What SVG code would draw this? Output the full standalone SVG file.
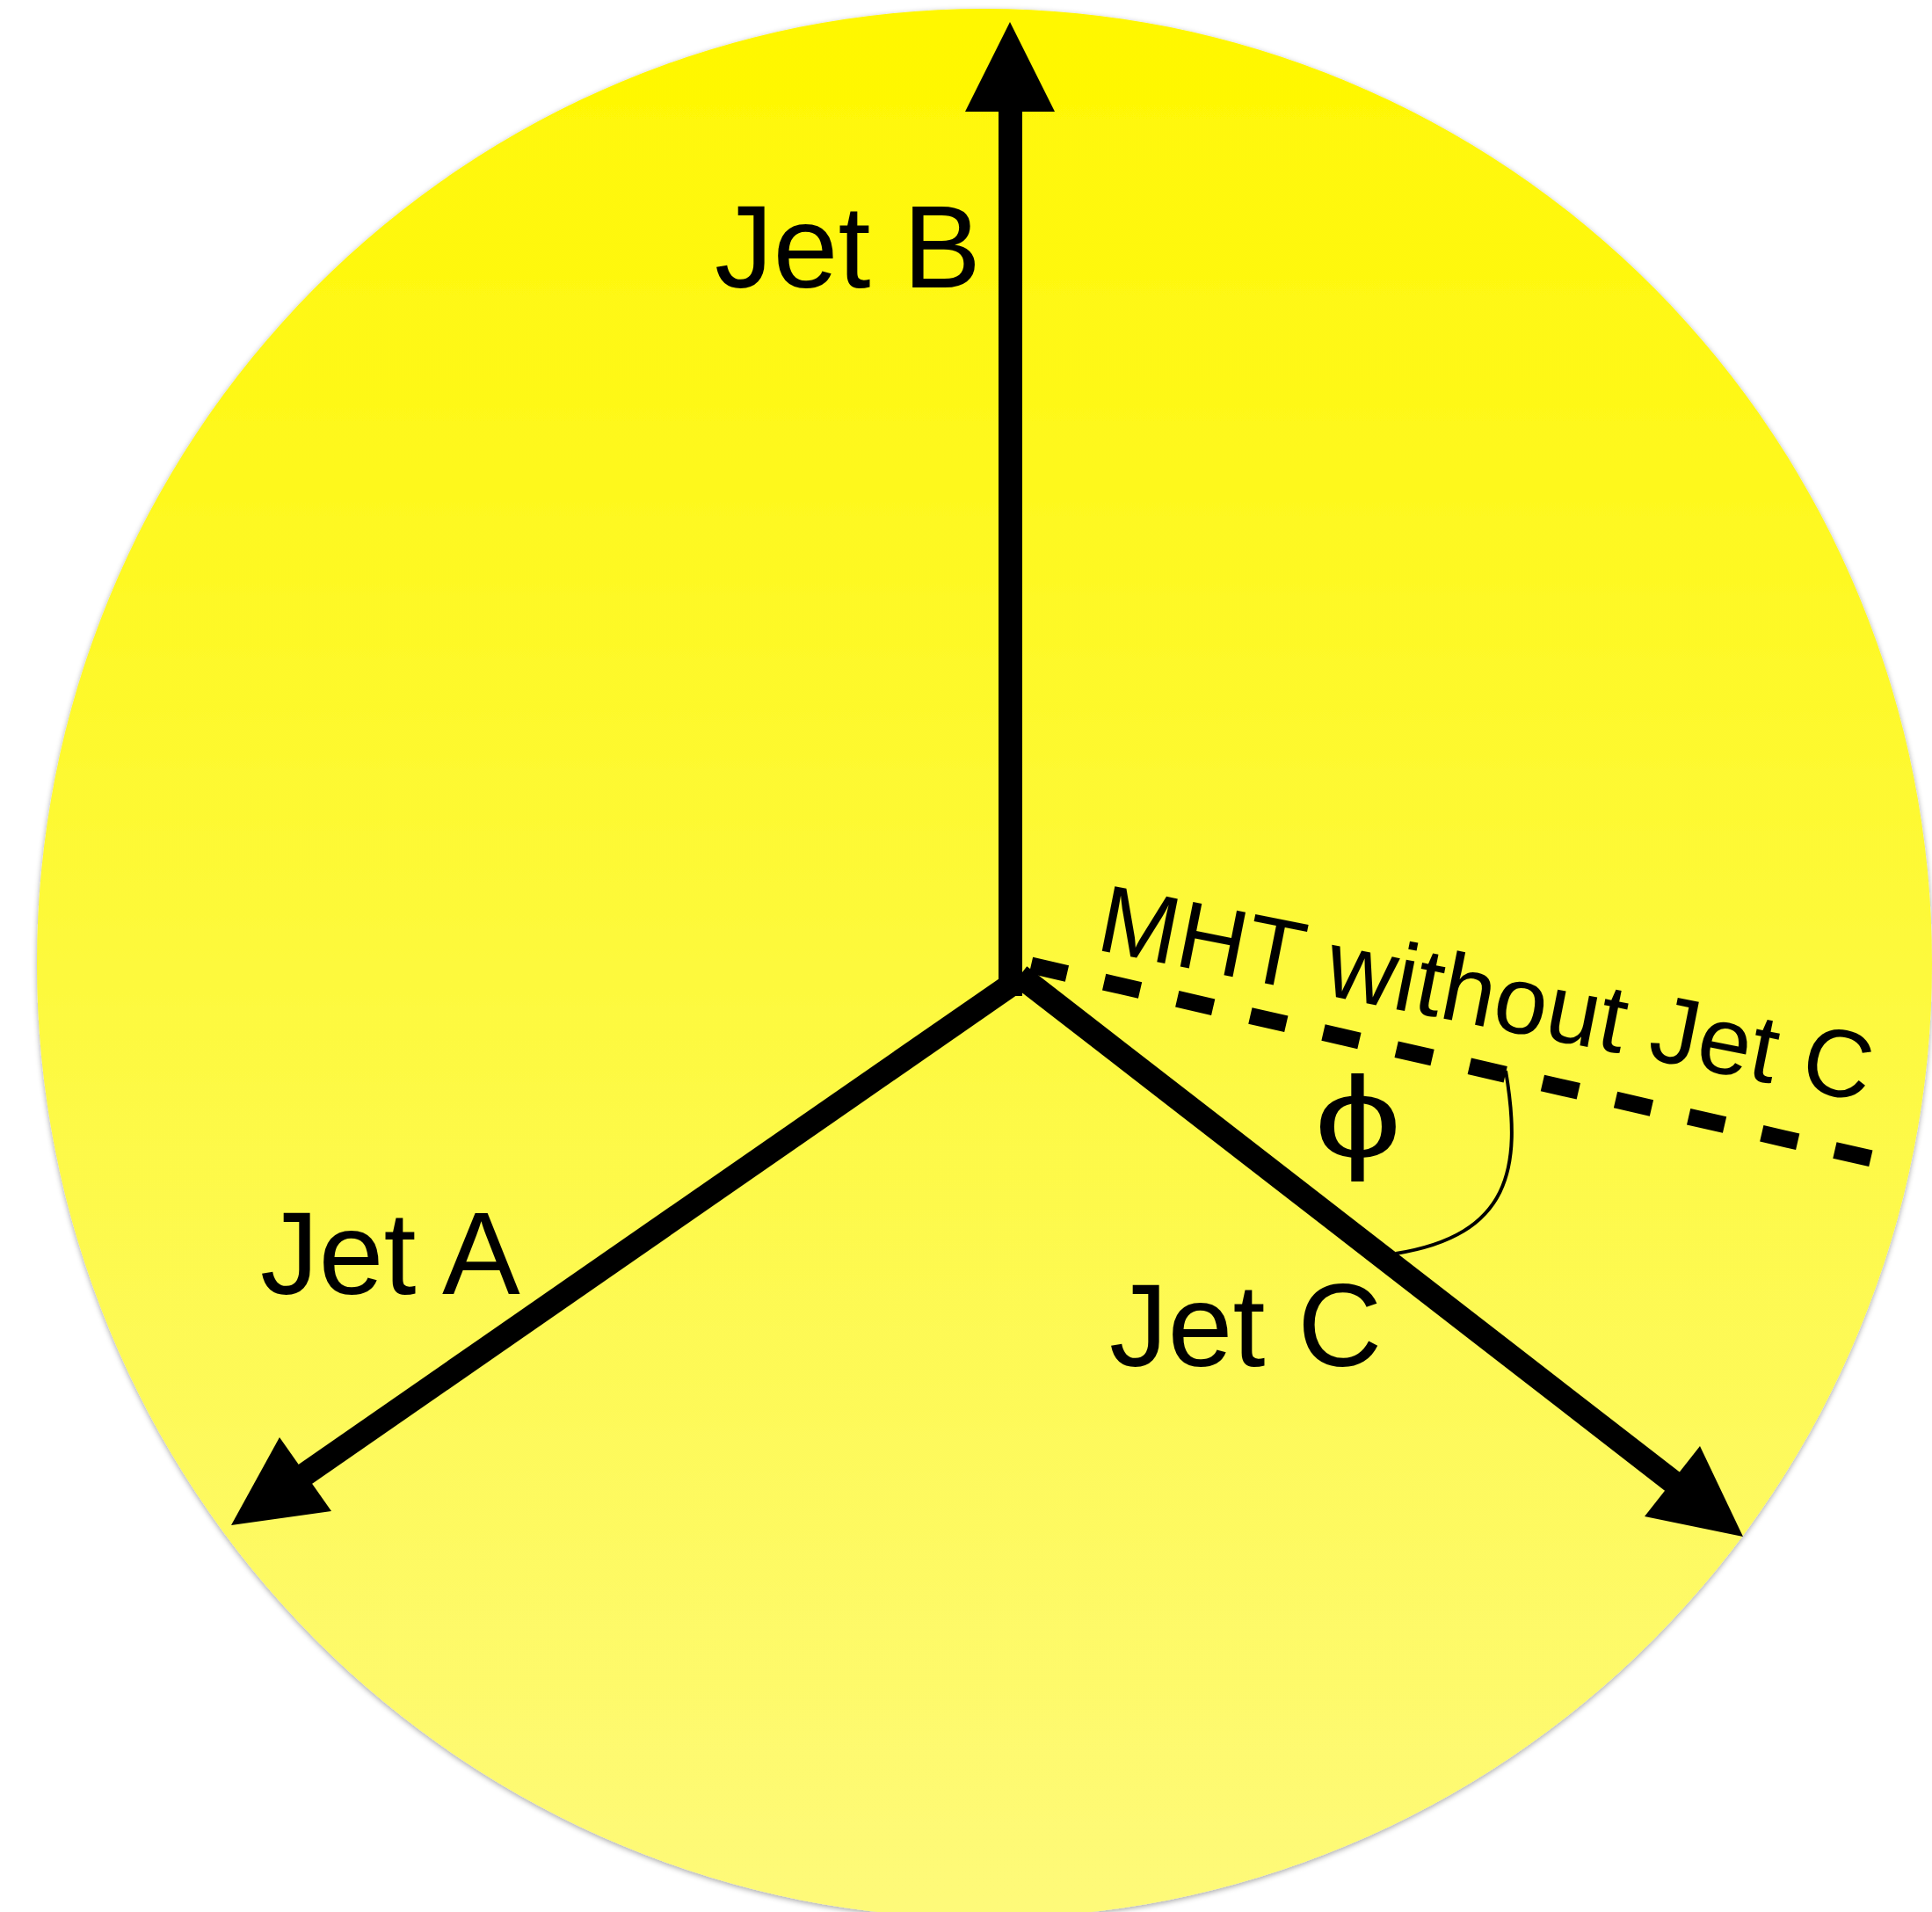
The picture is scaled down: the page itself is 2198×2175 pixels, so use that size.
<svg xmlns="http://www.w3.org/2000/svg" width="2198" height="2175" viewBox="0 0 2198 2175">
<defs>
<linearGradient id="bg" x1="0" y1="10" x2="0" y2="2180" gradientUnits="userSpaceOnUse">
<stop offset="0" stop-color="#FFF700"/>
<stop offset="0.5" stop-color="#FDF93C"/>
<stop offset="1" stop-color="#FEFA7A"/>
</linearGradient>
<filter id="sh" x="-5%" y="-5%" width="110%" height="110%">
<feGaussianBlur in="SourceAlpha" stdDeviation="3"/>
<feOffset dx="0" dy="2" result="b"/>
<feFlood flood-color="#000" flood-opacity="0.35"/>
<feComposite in2="b" operator="in"/>
<feMerge><feMergeNode/><feMergeNode in="SourceGraphic"/></feMerge>
</filter>
<style>
.lbl{font-family:"Liberation Sans",Arial,sans-serif;fill:#000}
.shaft{stroke:#000;stroke-width:27;fill:none}
.head{fill:#000}
</style>
</defs>
<rect width="2198" height="2175" fill="#fff"/>
<g id="disc">
<ellipse cx="1120" cy="1096" rx="1078" ry="1086" fill="url(#bg)" filter="url(#sh)"/>
</g>
<g id="connectors">
<g id="jetB-arrow">
<line class="shaft" x1="1149.5" y1="1133" x2="1149.5" y2="120"/>
<polygon class="head" points="1149,25 1200,127 1098,127"/>
</g>
<g id="jetA-arrow">
<line class="shaft" x1="1152" y1="1119" x2="340" y2="1682"/>
<polygon class="head" points="263,1735 318,1635 377,1719"/>
</g>
<g id="jetC-arrow">
<line class="shaft" x1="1160" y1="1110" x2="1910" y2="1691"/>
<polygon class="head" points="1983,1748 1934,1645 1871,1725"/>
</g>
<g id="mht-line">
<line x1="1173" y1="1098" x2="2129" y2="1318" stroke="#000" stroke-width="19" stroke-dasharray="42 43.3" fill="none"/>
</g>
<g id="phi-arc">
<path d="M1713,1218 C1732,1330 1718,1405 1588,1426" stroke="#000" stroke-width="4" fill="none"/>
</g>
</g>
<g id="label-jetB"><text class="lbl" x="813" y="327" font-size="133">Jet B</text></g>
<g id="label-jetA"><text class="lbl" x="296" y="1472" font-size="133">Jet A</text></g>
<g id="label-jetC"><text class="lbl" x="1262" y="1554" font-size="133">Jet C</text></g>
<g id="label-phi"><text class="lbl" transform="translate(1545,1317) scale(1.35,1)" font-size="132" text-anchor="middle">ϕ</text></g>
<g id="label-mht"><text class="lbl" transform="translate(1245,1080) rotate(11.2)" font-size="109">MHT without Jet C</text></g>
</svg>
